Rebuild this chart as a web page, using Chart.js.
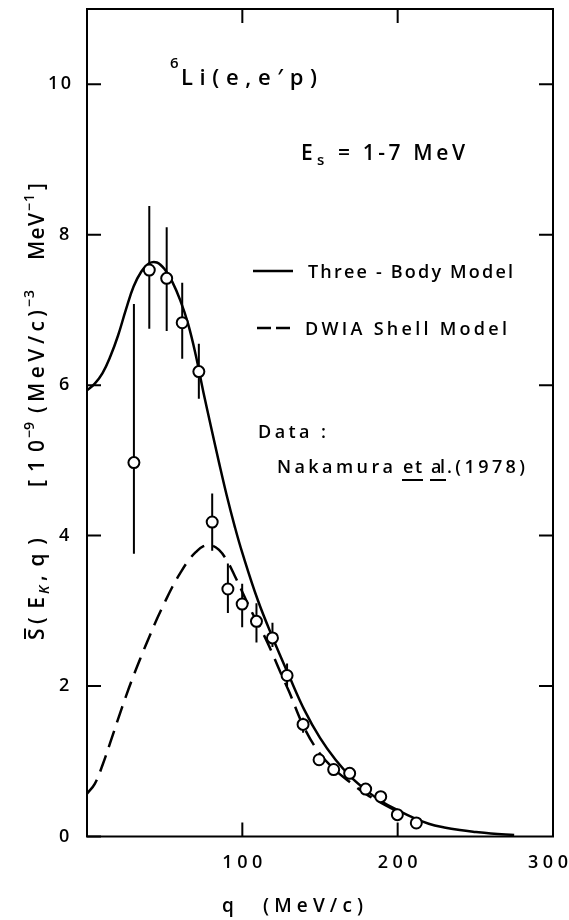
<!DOCTYPE html>
<html>
<head>
<meta charset="utf-8">
<script src="https://cdn.jsdelivr.net/npm/chart.js@4.4.1/dist/chart.umd.min.js"></script>
<style>
  html, body { margin: 0; padding: 0; background: #fff; }
  #wrap { width: 569px; height: 920px; }
</style>
</head>
<body>
<div id="wrap"><canvas id="spectralChart" width="569" height="920"></canvas></div>
<script>
// Axis ticks
const xTicks = [100, 200, 300];
const xTickLabels = ['100', '200', '300'];
const yTicks = [0, 2, 4, 6, 8, 10];
const yTickLabels = ['0', '2', '4', '6', '8', '10'];

// Nakamura et al. (1978) data points
const dataQ = [30.2, 40.1, 51.3, 61.3, 72.0, 80.6, 90.7, 99.9, 109.1, 119.4, 128.8, 139.1, 149.4, 158.8, 169.1, 179.4, 189.1, 199.8, 212.0];
const dataS = [4.97, 7.53, 7.42, 6.83, 6.18, 4.18, 3.29, 3.09, 2.86, 2.64, 2.14, 1.49, 1.02, 0.89, 0.84, 0.63, 0.53, 0.29, 0.18];
const errLow = [3.76, 6.75, 6.72, 6.35, 5.82, 3.80, 2.97, 2.78, 2.58, 2.52, 2.00, 1.38, 0.94, 0.82, 0.77, 0.57, 0.47, 0.24, 0.13];
const errHigh = [7.08, 8.38, 8.10, 7.36, 6.55, 4.56, 3.63, 3.36, 3.10, 2.84, 2.30, 1.58, 1.10, 0.96, 0.91, 0.69, 0.59, 0.34, 0.23];

// Three-body model (solid curve)
const threeBodyQ = [0, 5, 10, 15, 20, 25, 30, 35, 40, 45, 50, 55, 60, 65, 70, 75, 80, 85, 90, 95, 100, 110, 120, 130, 140, 150, 160, 170, 180, 190, 200, 210, 220, 230, 240, 250, 260, 275];
const threeBodyS = [5.93, 6.02, 6.16, 6.38, 6.66, 7.0, 7.31, 7.51, 7.62, 7.63, 7.54, 7.37, 7.13, 6.82, 6.40, 5.90, 5.43, 4.97, 4.53, 4.13, 3.77, 3.14, 2.62, 2.14, 1.68, 1.31, 1.02, 0.79, 0.61, 0.46, 0.35, 0.25, 0.17, 0.12, 0.085, 0.06, 0.04, 0.02];

// DWIA shell model (dashed curve)
const dwiaQ = [0, 5, 10, 15, 20, 25, 30, 35, 40, 45, 50, 55, 60, 65, 70, 75, 80, 85, 90, 95, 100, 105, 110, 115, 120, 125, 130, 140, 150, 160, 170, 180, 190, 200];
const dwiaS = [0.57, 0.70, 0.95, 1.25, 1.56, 1.86, 2.14, 2.40, 2.65, 2.89, 3.11, 3.32, 3.50, 3.66, 3.78, 3.86, 3.87, 3.81, 3.67, 3.47, 3.25, 3.03, 2.83, 2.63, 2.40, 2.16, 1.93, 1.44, 1.10, 0.88, 0.71, 0.56, 0.44, 0.33];

const FONT = '"Open Sans", "DejaVu Sans", sans-serif';

function toPoints(xs, ys) {
  return xs.map((x, i) => ({ x: x, y: ys[i] }));
}

// Draw text with spacing stretched so that it spans the given width
function spacedText(ctx, text, x, y, width) {
  const chars = [...text];
  const widths = chars.map((c) => ctx.measureText(c).width);
  const total = widths.reduce((a, b) => a + b, 0);
  const gap = chars.length > 1 && width ? (width - total) / (chars.length - 1) : 0;
  let cx = x;
  chars.forEach((c, i) => {
    ctx.fillText(c, cx, y);
    cx += widths[i] + gap;
  });
  return cx - gap;
}

//Frame and inward tick marks
const framePlugin = {
  id: 'frame',
  afterDatasetsDraw(chart) {
    const { ctx, chartArea: a, scales } = chart;
    ctx.save();
    ctx.strokeStyle = '#000';
    ctx.lineWidth = 2;
    ctx.strokeRect(a.left, a.top, a.right - a.left, a.bottom - a.top);
    const len = 14;
    ctx.beginPath();
    yTicks.forEach((v) => {
      const py = scales.y.getPixelForValue(v);
      ctx.moveTo(a.left, py);
      ctx.lineTo(a.left + len, py);
      if (v > 0) {
        ctx.moveTo(a.right, py);
        ctx.lineTo(a.right - len, py);
      }
    });
    xTicks.forEach((v) => {
      if (v >= 300) return;
      const px = scales.x.getPixelForValue(v);
      ctx.moveTo(px, a.bottom);
      ctx.lineTo(px, a.bottom - len);
      ctx.moveTo(px, a.top);
      ctx.lineTo(px, a.top + len);
    });
    ctx.stroke();

    // tick labels
    ctx.fillStyle = '#000';
    ctx.font = '600 18px ' + FONT;
    ctx.textBaseline = 'middle';
    ctx.textAlign = 'left';
    yTicks.forEach((v, i) => {
      const py = scales.y.getPixelForValue(v);
      const label = yTickLabels[i];
      if (label.length > 1) {
        spacedText(ctx, label, 48, py, 23);
      } else {
        spacedText(ctx, label, 59, py, 0);
      }
    });
    xTicks.forEach((v, i) => {
      const px = scales.x.getPixelForValue(v);
      const label = xTickLabels[i];
      const w = 40;
      let left = px - w / 2;
      if (left + w > chart.width - 1) left = chart.width - 1 - w;
      spacedText(ctx, label, left, 863, w);
    });
    ctx.restore();
  },
};

//Vertical error bars, drawn under the markers
const errorBarPlugin = {
  id: 'errorBars',
  beforeDatasetsDraw(chart) {
    const { ctx, scales } = chart;
    ctx.save();
    ctx.strokeStyle = '#000';
    ctx.lineWidth = 2;
    ctx.beginPath();
    dataQ.forEach((q, i) => {
      const px = scales.x.getPixelForValue(q);
      ctx.moveTo(px, scales.y.getPixelForValue(errLow[i]));
      ctx.lineTo(px, scales.y.getPixelForValue(errHigh[i]));
    });
    ctx.stroke();
    ctx.restore();
  },
};

//Annotations, legend and axis titles
const textPlugin = {
  id: 'annotations',
  afterDraw(chart) {
    const ctx = chart.ctx;
    ctx.save();
    ctx.fillStyle = '#000';
    ctx.strokeStyle = '#000';
    ctx.textAlign = 'left';
    ctx.textBaseline = 'alphabetic';

    // reaction
    ctx.font = '600 15px ' + FONT;
    ctx.fillText('6', 170, 68);
    ctx.font = '600 22px ' + FONT;
    spacedText(ctx, 'Li(e,e\u2032p)', 181, 85, 136);

    // separation energy
    ctx.font = '600 21px ' + FONT;
    spacedText(ctx, 'E', 301, 160, 0);
    ctx.font = '600 15px ' + FONT;
    ctx.fillText('s', 317, 165);
    ctx.font = '600 21px ' + FONT;
    spacedText(ctx, '= 1-7 MeV', 338, 160, 127);

    // legend
    ctx.lineWidth = 2.5;
    ctx.beginPath();
    ctx.moveTo(253, 271);
    ctx.lineTo(293, 271);
    ctx.moveTo(257, 328);
    ctx.lineTo(271, 328);
    ctx.moveTo(276, 328);
    ctx.lineTo(290, 328);
    ctx.stroke();
    ctx.font = '600 18px ' + FONT;
    spacedText(ctx, 'Three - Body Model', 308, 278, 205);
    spacedText(ctx, 'DWIA Shell Model', 305, 335, 202);
    spacedText(ctx, 'Data :', 258, 438, 68);
    spacedText(ctx, 'Nakamura', 277, 473, 116);
    spacedText(ctx, 'et', 403, 473, 19);
    spacedText(ctx, 'al', 431, 473, 14);
    spacedText(ctx, '.(1978)', 447, 473, 78);
    ctx.lineWidth = 2;
    ctx.beginPath();
    ctx.moveTo(402, 480);
    ctx.lineTo(423, 480);
    ctx.moveTo(430, 480);
    ctx.lineTo(446, 480);
    ctx.stroke();

    // x axis title
    ctx.font = '600 19px ' + FONT;
    ctx.fillText('q', 222, 912);
    spacedText(ctx, '(MeV/c)', 263, 912, 100);

    // y axis title, rotated
    ctx.translate(44, 640);
    ctx.rotate(-Math.PI / 2);
    const big = '600 21px ' + FONT;
    const small = '600 14px ' + FONT;
    ctx.font = big;
    ctx.fillText('S', 0, 0);
    const sw = ctx.measureText('S').width;
    ctx.lineWidth = 2;
    ctx.beginPath();
    ctx.moveTo(1, -19);
    ctx.lineTo(sw, -19);
    ctx.stroke();
    spacedText(ctx, '(E', 16, 0, 27);
    ctx.font = 'italic ' + small;
    ctx.fillText('K', 46, 5);
    ctx.font = big;
    spacedText(ctx, ',q)', 59, 0, 43);
    spacedText(ctx, '[10', 153, 0, 47);
    ctx.font = small;
    spacedText(ctx, '\u22129', 202, -10, 16);
    ctx.font = big;
    spacedText(ctx, '(MeV/c)', 227, 0, 103);
    ctx.font = small;
    spacedText(ctx, '\u22123', 333, -10, 17);
    ctx.font = big;
    spacedText(ctx, 'MeV', 380, 0, 47);
    ctx.font = small;
    spacedText(ctx, '\u22121', 429, -10, 17);
    ctx.font = big;
    ctx.fillText(']', 450, 0);
    ctx.restore();
  },
};

function createChart() {
  const canvasElement = document.getElementById('spectralChart');
  const chartContext = canvasElement.getContext('2d');

  /* global Chart */
  return new Chart(chartContext, {
    type: 'scatter',
    data: {
      datasets: [
        {
          label: 'Nakamura et al. (1978)',
          data: toPoints(dataQ, dataS),
          showLine: false,
          pointRadius: 5.5,
          pointBackgroundColor: '#fff',
          pointBorderColor: '#000',
          pointBorderWidth: 2,
          order: 0,
        },
        {
          label: 'Three-Body Model',
          data: toPoints(threeBodyQ, threeBodyS),
          showLine: true,
          pointRadius: 0,
          borderColor: '#000',
          borderWidth: 2.5,
          tension: 0.4,
          order: 1,
        },
        {
          label: 'DWIA Shell Model',
          data: toPoints(dwiaQ, dwiaS),
          showLine: true,
          pointRadius: 0,
          borderColor: '#000',
          borderWidth: 2.5,
          borderDash: [17, 9],
          tension: 0.4,
          order: 2,
        },
      ],
    },
    options: {
      responsive: false,
      animation: false,
      devicePixelRatio: 1,
      layout: { padding: { left: 87, right: 16, top: 9, bottom: 83.5 } },
      scales: {
        x: { type: 'linear', min: 0, max: 300, display: false },
        y: { type: 'linear', min: 0, max: 11, display: false },
      },
      plugins: {
        legend: { display: false },
        tooltip: { enabled: false },
      },
    },
    plugins: [errorBarPlugin, framePlugin, textPlugin],
  });
}

createChart();
</script>
</body>
</html>
